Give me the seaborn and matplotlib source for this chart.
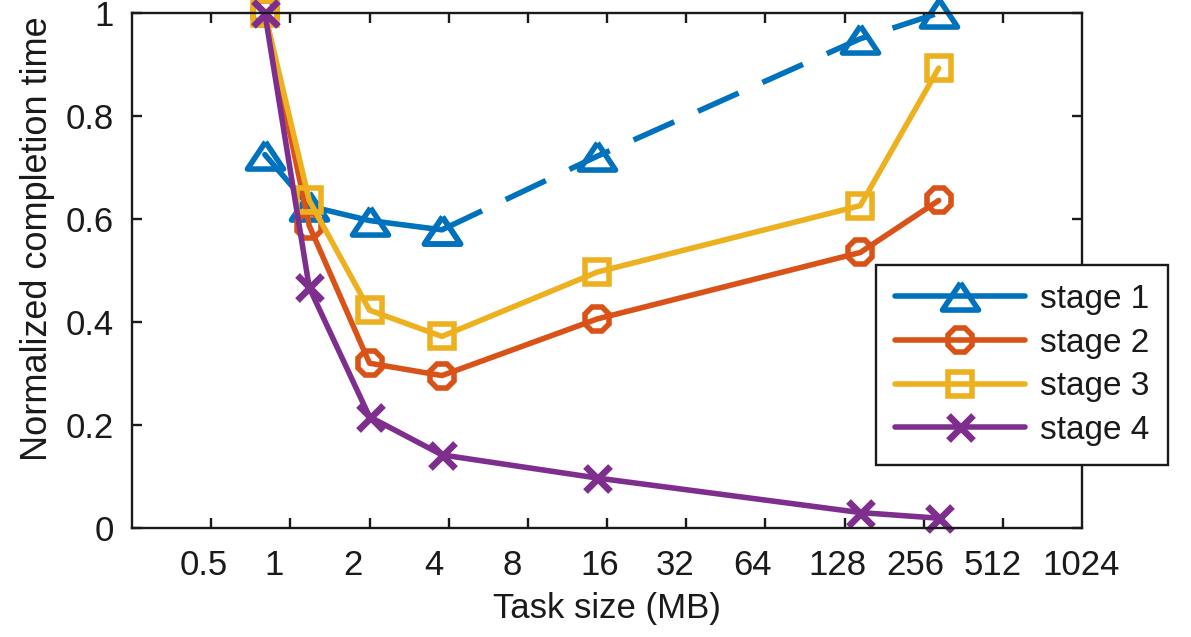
import matplotlib
matplotlib.use("Agg")
import matplotlib.pyplot as plt
import matplotlib.transforms as mtransforms
import seaborn as sns

# Task sizes (MB) at which each stage was measured
task_size_mb = [0.8, 1.18, 2.0, 3.77, 14.7, 147, 292]

# Normalized completion time per stage
stage1 = [0.725, 0.625, 0.597, 0.579, 0.722, 0.95, 1.0]
stage2 = [1.0, 0.587, 0.32, 0.296, 0.406, 0.535, 0.636]
stage3 = [1.0, 0.636, 0.423, 0.372, 0.497, 0.626, 0.893]
stage4 = [1.0, 0.467, 0.216, 0.142, 0.097, 0.03, 0.019]

series_names = ["stage 1", "stage 2", "stage 3", "stage 4"]
x_tick_values = [0.5, 1, 2, 4, 8, 16, 32, 64, 128, 256, 512, 1024]
x_tick_labels = ["0.5", "1", "2", "4", "8", "16", "32", "64", "128", "256", "512", "1024"]
y_tick_values = [0, 0.2, 0.4, 0.6, 0.8, 1]
y_tick_labels = ["0", "0.2", "0.4", "0.6", "0.8", "1"]

# horizontal nudge (px) of each x label relative to its tick
x_label_nudge = [-7, -16, -17, -15, -16, -7, -11, -13, -7, -8, -10, -1]

colors = ["#0072BD", "#D95319", "#EDB120", "#7E2F8E"]
# wide, flat triangle outline
tri = [(0, 0.75), (-1, -0.75), (1, -0.75), (0, 0.75)]
markers = [tri, "8", "s", "x"]
marker_sizes = [26, 18, 17, 18]
marker_edges = [4.0, 4.0, 4.0, 4.8]

sns.set_style("white")
plt.rcParams["font.family"] = ["Liberation Sans", "DejaVu Sans"]
TEXT = "#1a1a1a"

fig = plt.figure(figsize=(11.91, 6.37), dpi=100)
ax = fig.add_axes([132 / 1191, 1 - 528 / 637, 950 / 1191, 515 / 637])
ax.set_xscale("log", base=2)

LW = 4.0
series = [stage1, stage2, stage3, stage4]
handles = []
for i, (vals, name) in enumerate(zip(series, series_names)):
    style = dict(color=colors[i], marker=markers[i], markersize=marker_sizes[i],
                 markeredgewidth=marker_edges[i], markeredgecolor=colors[i],
                 markerfacecolor="none", linewidth=LW, clip_on=False,
                 errorbar=None, ax=ax)
    if i == 0:
        # first segment solid, remainder dashed
        sns.lineplot(x=task_size_mb[:4], y=vals[:4], label=name, **style)
        handles.append(ax.get_lines()[-1])
        sns.lineplot(x=task_size_mb[3:], y=vals[3:], linestyle=(0, (8, 4.7)),
                     **style)
    else:
        sns.lineplot(x=task_size_mb, y=vals, label=name, **style)
        handles.append(ax.get_lines()[-1])

ax.set_xlim(0.25, 1024)
ax.set_ylim(0, 1)

for sp in ax.spines.values():
    sp.set_visible(True)
    sp.set_color(TEXT)
    sp.set_linewidth(1.7)

ax.set_xticks(x_tick_values[:-1])
ax.set_xticks([], minor=True)
ax.set_xticklabels([])
ax.set_yticks(y_tick_values)
ax.set_yticklabels(y_tick_labels)
ax.tick_params(axis="both", which="major", direction="in", length=7, width=1.7,
               color=TEXT, top=True, right=True, bottom=True, left=True)
ax.tick_params(axis="y", labelsize=25, pad=13, labelcolor=TEXT)

# x tick labels as text placed under the ticks
xtrans = mtransforms.blended_transform_factory(ax.transData, ax.transAxes)
for val, lab, dx in zip(x_tick_values, x_tick_labels, x_label_nudge):
    off = mtransforms.ScaledTranslation(dx / 100, -21 / 100, fig.dpi_scale_trans)
    ax.text(val, 0, lab, transform=xtrans + off, ha="center", va="top",
            fontsize=25, color=TEXT, clip_on=False)

ax.set_xlabel("Task size (MB)", fontsize=25, color=TEXT)
ax.xaxis.set_label_coords(0.5, -0.125)
ax.set_ylabel("Normalized completion time", fontsize=26, color=TEXT)
ax.yaxis.set_label_coords(-0.081, 0.562)

leg = ax.legend(handles=handles, labels=series_names, loc="upper left",
                bbox_to_anchor=(876 / 1191, 1 - 265 / 637),
                bbox_transform=fig.transFigure, borderaxespad=0,
                fontsize=24, frameon=True, fancybox=False, framealpha=1,
                edgecolor=TEXT, handlelength=3.9, handletextpad=0.45,
                labelspacing=0.38, borderpad=0.57, numpoints=1)
leg.get_frame().set_linewidth(1.7)
leg.set_zorder(10)
for t in leg.get_texts():
    t.set_color(TEXT)

fig.savefig("out.png", dpi=100, facecolor="white")
